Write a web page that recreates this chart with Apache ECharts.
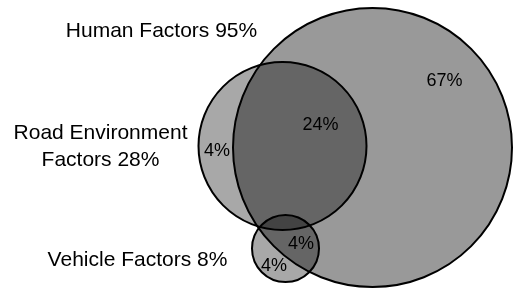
<!DOCTYPE html>
<html>
<head>
<meta charset="utf-8">
<script src="https://cdn.jsdelivr.net/npm/echarts@6/dist/echarts.min.js"></script>
<style>
  html, body { margin: 0; padding: 0; background: #fff; }
  #chart { width: 513px; height: 288px; }
</style>
</head>
<body>
<div id="chart"></div>
<script>
// 三个因素的圆 (中心和半径, 图表单位)
var setNames = ['Human Factors', 'Road Environment Factors', 'Vehicle Factors'];
var setX = [372.5, 282.5, 285.5];
var setY = [147.5, 146, 248.5];
var setR = [139.5, 84, 33.5];

// 外部标签
var titleText = ['Human Factors 95%', 'Road Environment\nFactors 28%', 'Vehicle Factors 8%'];
var titleX = [161.5, 100.5, 137.5];
var titleY = [31.5, 146.5, 260];

// 区域百分比
var regionText = ['67%', '24%', '4%', '4%', '4%'];
var regionX = [444.5, 320.5, 217, 301, 274];
var regionY = [81, 125.5, 151.5, 244, 266];

(function () {
    var myChart = echarts.init(document.getElementById('chart'));
    // 每个圆的透明度, 重叠处会变深
    var alphas = [0.4, 0.34, 0.34];

    var circleData = setNames.map(function (n, i) {
        return { name: n, value: [setX[i], setY[i], setR[i]] };
    });
    var titleData = titleText.map(function (t, i) {
        return { name: t, value: [titleX[i], titleY[i]] };
    });
    var regionData = regionText.map(function (t, i) {
        return { name: t, value: [regionX[i], regionY[i]] };
    });

    var labelBase = {
        show: true,
        position: 'inside',
        formatter: '{b}',
        color: '#000',
        opacity: 1,
        textBorderWidth: 0,
        fontFamily: 'Liberation Sans, Arial, sans-serif'
    };

    var option = {
        animation: false,
        grid: { left: 0, right: 0, top: 0, bottom: 0 },
        xAxis: { type: 'value', min: 0, max: 513, show: false },
        yAxis: { type: 'value', min: 0, max: 288, inverse: true, show: false },
        series: [{
            type: 'custom',
            data: circleData,
            renderItem: function (params, api) {
                var c = api.coord([api.value(0), api.value(1)]);
                var r = api.size([api.value(2), 0])[0];
                return {
                    type: 'circle',
                    shape: { cx: c[0], cy: c[1], r: r },
                    style: {
                        fill: 'rgba(0,0,0,' + alphas[params.dataIndex] + ')',
                        stroke: '#000',
                        lineWidth: 2
                    }
                };
            }
        }, {
            type: 'scatter',
            symbolSize: 0,
            itemStyle: { opacity: 1 },
            data: titleData,
            label: Object.assign({}, labelBase, { fontSize: 21, lineHeight: 27 })
        }, {
            type: 'scatter',
            symbolSize: 0,
            itemStyle: { opacity: 1 },
            data: regionData,
            label: Object.assign({}, labelBase, { fontSize: 18 })
        }]
    };
    myChart.setOption(option);
})();
</script>
</body>
</html>
